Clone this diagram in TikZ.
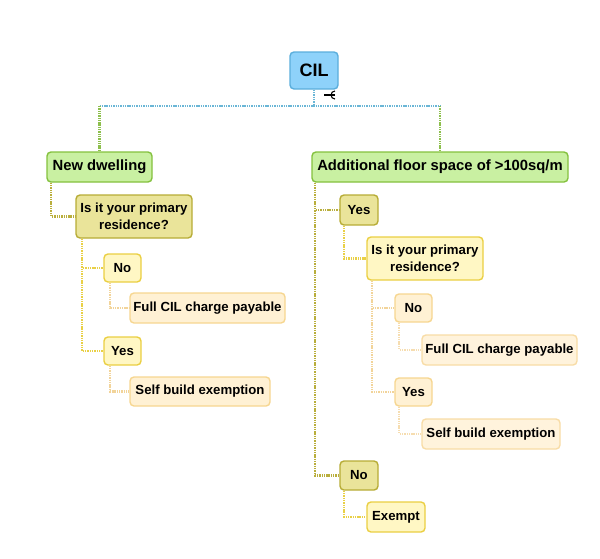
\documentclass[tikz,border=0pt]{standalone}
\usepackage{fontspec}
\setmainfont{Liberation Sans}
\definecolor{cilF}{HTML}{8ED2FA}
\definecolor{cilD}{HTML}{5AAEDC}
\definecolor{grnF}{HTML}{C9F0A2}
\definecolor{grnD}{HTML}{84C13E}
\definecolor{olvF}{HTML}{EAE49A}
\definecolor{olvD}{HTML}{B7AC36}
\definecolor{ylwF}{HTML}{FFF7C4}
\definecolor{ylwD}{HTML}{EACF42}
\definecolor{orgF}{HTML}{FFF1D4}
\definecolor{orgD}{HTML}{F6D690}
\definecolor{lorF}{HTML}{FFF3DC}
\definecolor{lorD}{HTML}{F8DCA6}
\definecolor{bluL}{HTML}{6AB6D6}
\definecolor{grnL}{HTML}{8DBF4C}
\definecolor{olvL}{HTML}{B9AE3C}
\definecolor{ylwL}{HTML}{E9D046}
\definecolor{orgL}{HTML}{F2D49A}
\definecolor{lorL}{HTML}{F6DDB0}
\begin{document}
\begin{tikzpicture}[x=1pt,y=-1pt,
  box/.style 2 args={draw=#2, fill=#1, line width=1.4pt, rounded corners=4pt,
     font=\fontsize{13.2}{16.5}\selectfont\bfseries, align=center, inner sep=0pt, anchor=center},
  cil/.style={box={cilF}{cilD}, font=\fontsize{18}{20}\selectfont\bfseries},
  grn/.style={box={grnF}{grnD}, font=\fontsize{14.8}{18}\selectfont\bfseries},
  olv/.style={box={olvF}{olvD}},
  ylw/.style={box={ylwF}{ylwD}},
  org/.style={box={orgF}{orgD}},
  lor/.style={box={lorF}{lorD}},
  conn/.style={line width=2.1pt, dash pattern=on 1.4pt off 0.9pt},
  wsz/.style 2 args={minimum width=#1pt, minimum height=#2pt}
]
\useasboundingbox (0,0) rectangle (600,558);

\node[cil, wsz={48}{37}] (cil) at (314,70.5) {CIL};
\node[grn, wsz={105}{30}] (nd) at (99.5,167) {New dwelling};
\node[grn, wsz={256}{30}] (add) at (440,167) {Additional floor space of >100sq/m};

\node[olv, wsz={116}{43}] (q1) at (134,216.5) {Is it your primary\\residence?};
\node[ylw, wsz={37}{28}] (n1) at (122.5,268) {No};
\node[org, wsz={155}{30}] (f1) at (207.5,308) {Full CIL charge payable};
\node[ylw, wsz={37}{28}] (y1) at (122.5,351) {Yes};
\node[org, wsz={140}{29}] (s1) at (200,391.5) {Self build exemption};

\node[olv, wsz={38}{30}] (y2) at (359,210) {Yes};
\node[ylw, wsz={116}{43}] (q2) at (425,258.5) {Is it your primary\\residence?};
\node[org, wsz={37}{28}] (n3) at (413.5,308) {No};
\node[lor, wsz={155}{30}] (f2) at (499.5,350) {Full CIL charge payable};
\node[org, wsz={37}{28}] (y3) at (413.5,392) {Yes};
\node[lor, wsz={138}{30}] (s2) at (491,434) {Self build exemption};
\node[olv, wsz={38}{29}] (n2) at (359,475.5) {No};
\node[ylw, wsz={58}{30}] (ex) at (396,517) {Exempt};

% fold marker
\coordinate (fm) at (330,95);
\draw[line width=1.1pt] ([xshift=-6pt]fm) -- ([xshift=4.5pt]fm);
\draw[line width=1.1pt] ([xshift=5pt,yshift=-4pt]fm) arc (-90:-270:4pt);

% bus
\coordinate (bus) at (0,106);
\draw[conn, bluL] (cil.south) -- (cil.south |- bus);
\draw[conn, bluL] (nd.north |- bus) -- (add.north |- bus);
\draw[conn, grnL] (nd.north |- bus) -- (nd.north);
\draw[conn, grnL] (add.north |- bus) -- (add.north);

% left branch
\draw[conn, olvL] ([xshift=5pt]nd.south west) |- (q1.west);
\draw[conn, ylwL] ([xshift=7pt]q1.south west) |- (n1.west);
\draw[conn, ylwL] ([xshift=7pt]q1.south west) |- (y1.west);
\draw[conn, orgL] ([xshift=7pt]n1.south west) |- (f1.west);
\draw[conn, orgL] ([xshift=7pt]y1.south west) |- (s1.west);

% right branch
\draw[conn, olvL] ([xshift=4pt]add.south west) |- (y2.west);
\draw[conn, olvL] ([xshift=4pt]add.south west) |- (n2.west);
\draw[conn, ylwL] ([xshift=5pt]y2.south west) |- (q2.west);
\draw[conn, orgL] ([xshift=6pt]q2.south west) |- (n3.west);
\draw[conn, orgL] ([xshift=6pt]q2.south west) |- (y3.west);
\draw[conn, lorL] ([xshift=5pt]n3.south west) |- (f2.west);
\draw[conn, lorL] ([xshift=5pt]y3.south west) |- (s2.west);
\draw[conn, ylwL] ([xshift=5pt]n2.south west) |- (ex.west);
\end{tikzpicture}
\end{document}
